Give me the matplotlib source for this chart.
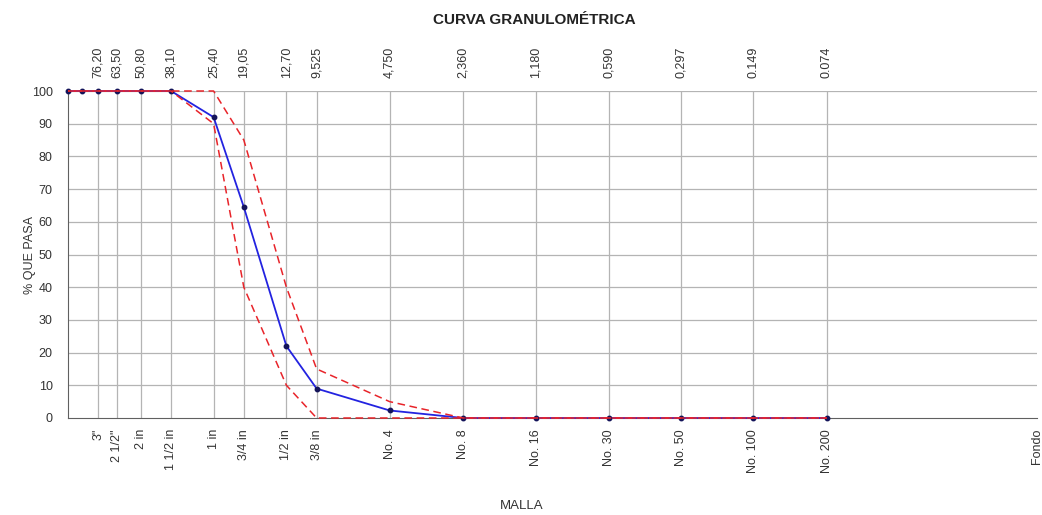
import matplotlib
matplotlib.use("Agg")
import matplotlib.pyplot as plt
from matplotlib.ticker import NullLocator, FixedLocator

plt.rcParams['font.family'] = ['Liberation Sans', 'DejaVu Sans']

# Data
sizes_mm = [101.6, 88.9, 76.2, 63.5, 50.8, 38.1, 25.4, 19.05, 12.7, 9.525,
            4.75, 2.36, 1.18, 0.59, 0.297, 0.149, 0.074]
pasa = [100, 100, 100, 100, 100, 100, 92, 64.5, 22, 9, 2.3, 0, 0, 0, 0, 0, 0]
lim_inf = [100, 100, 100, 100, 100, 100, 90, 40, 10, 0, 0, 0, 0, 0, 0, 0, 0]
lim_sup = [100, 100, 100, 100, 100, 100, 100, 85, 40, 15, 5, 0, 0, 0, 0, 0, 0]

tick_mm = [76.2, 63.5, 50.8, 38.1, 25.4, 19.05, 12.7, 9.525, 4.75, 2.36,
           1.18, 0.59, 0.297, 0.149, 0.074, 0.01]
malla_labels = ['3"', '2 1/2"', '2 in', '1 1/2 in', '1 in', '3/4 in', '1/2 in',
                '3/8 in', 'No. 4', 'No. 8', 'No. 16', 'No. 30', 'No. 50',
                'No. 100', 'No. 200', 'Fondo']
top_labels = ['76,20', '63,50', '50,80', '38,10', '25,40', '19,05', '12,70',
              '9,525', '4,750', '2,360', '1,180', '0,590', '0,297', '0.149',
              '0.074']

W, H = 1042, 515
fig = plt.figure(figsize=(W / 100, H / 100), dpi=100)
ax = fig.add_axes([68 / W, (H - 418) / H, 969 / W, 327 / H])

ax.set_xscale('log')
ax.set_xlim(101.6, 0.01)
ax.set_ylim(0, 100)

# grid
for t in tick_mm[:-1]:
    ax.axvline(t, color='#b4b4b4', lw=0.9, zorder=0)
for y in range(10, 101, 10):
    ax.axhline(y, color='#b4b4b4', lw=0.9, zorder=0)

ax.plot(sizes_mm, pasa, color='#2323e0', lw=1.3, marker='o', ms=3.2,
        mfc='#14145a', mec='#14145a', zorder=3, clip_on=False)
ax.plot(sizes_mm, lim_inf, color='#e8242a', lw=1.1, ls=(0, (5, 3)), zorder=4,
        clip_on=False)
ax.plot(sizes_mm, lim_sup, color='#e8242a', lw=1.1, ls=(4, (5, 3)), zorder=4,
        clip_on=False)

for s in ['top', 'right']:
    ax.spines[s].set_visible(False)
ax.spines['left'].set_color('#606060')
ax.spines['bottom'].set_color('#606060')

tick_fs = 9
ax.xaxis.set_major_locator(FixedLocator(tick_mm))
ax.xaxis.set_minor_locator(NullLocator())
ax.set_xticklabels(malla_labels, rotation=90, fontsize=tick_fs, color='#333333')
ax.tick_params(axis='x', length=0, pad=8)
ax.set_yticks(range(0, 101, 10))
ax.set_yticklabels([str(v) for v in range(0, 101, 10)], fontsize=tick_fs,
                   color='#333333')
ax.tick_params(axis='y', length=0, pad=11)

ax2 = ax.twiny()
ax2.set_xscale('log')
ax2.set_xlim(ax.get_xlim())
ax2.xaxis.set_major_locator(FixedLocator(tick_mm[:-1]))
ax2.xaxis.set_minor_locator(NullLocator())
ax2.set_xticklabels(top_labels, rotation=90, fontsize=tick_fs, color='#333333')
ax2.tick_params(axis='x', length=0, pad=9)
for s in ax2.spines.values():
    s.set_visible(False)

fig.text(534 / W, 1 - 20 / H, 'CURVA GRANULOMÉTRICA', ha='center', va='center',
         fontsize=11, fontweight='bold', color='#222222')
fig.text(30 / W, 1 - 255 / H, '% QUE PASA', ha='center', va='center',
         rotation=90, fontsize=9, color='#333333')
fig.text(522 / W, 1 - 506 / H, 'MALLA', ha='center', va='center',
         fontsize=9.5, color='#333333')

fig.savefig('out.png', dpi=100)
